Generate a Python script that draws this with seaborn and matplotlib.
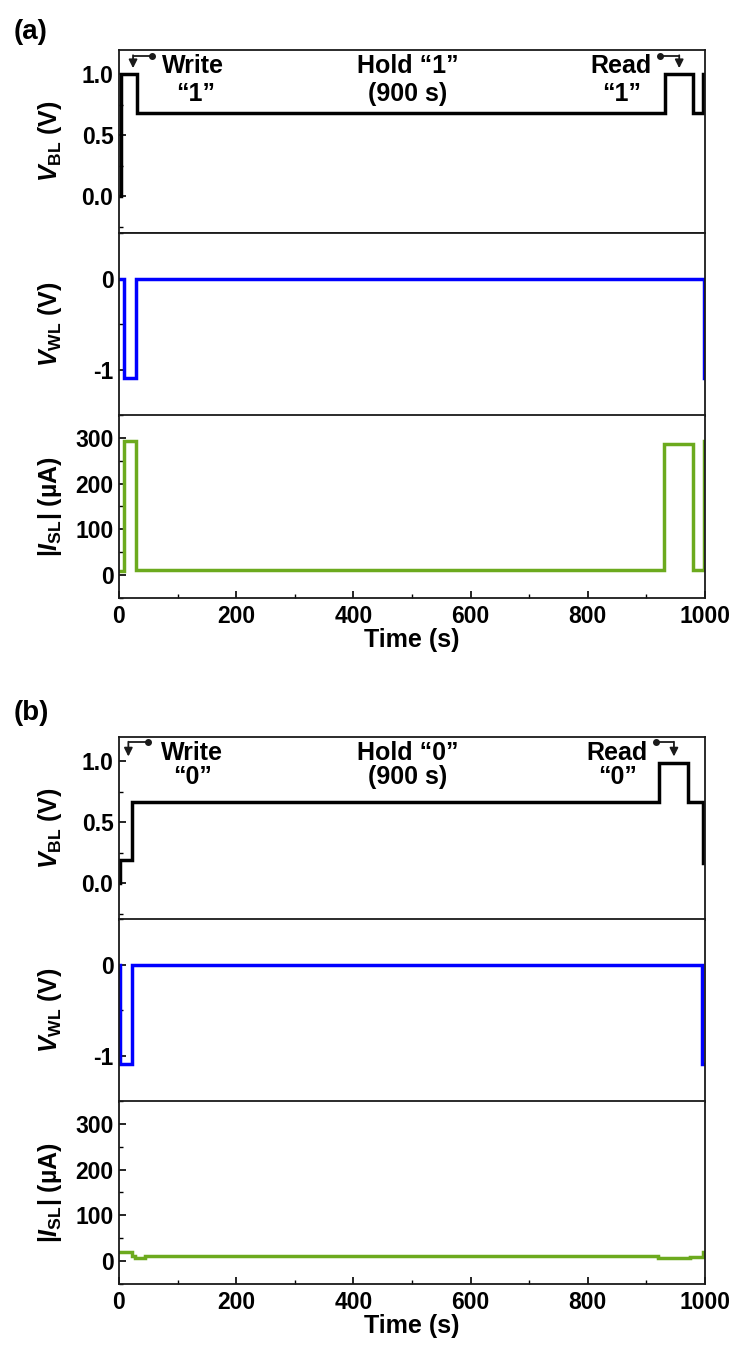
import matplotlib
matplotlib.use("Agg")
import matplotlib.pyplot as plt
from matplotlib.ticker import MultipleLocator, FormatStrFormatter
import pandas as pd
import seaborn as sns

# ---- step records (time in s) ----
# (a) write "1" / hold / read "1"
time_bl_a = [0, 3, 31, 932, 980, 997, 1000]
vbl_a = [0.0, 1.0, 0.68, 1.0, 0.68, 1.0, 1.0]
time_wl_a = [0, 8, 29, 998, 1000]
vwl_a = [0.0, -1.08, 0.0, -1.08, -1.08]
time_sl_a = [0, 8, 29, 930, 980, 998, 1000]
isl_a = [10, 292, 12, 286, 12, 292, 292]

# (b) write "0" / hold / read "0"
time_bl_b = [0, 1, 23, 922, 971, 997, 1000]
vbl_b = [0.0, 0.19, 0.67, 0.99, 0.67, 0.17, 0.17]
time_wl_b = [0, 2, 22, 995, 1000]
vwl_b = [0.0, -1.08, 0.0, -1.08, -1.08]
time_sl_b = [0, 22, 28, 45, 920, 975, 996, 1000]
isl_b = [20, 12, 7, 11, 6, 8, 20, 20]

time_ticks = [0, 200, 400, 600, 800, 1000]
vbl_ticks = [0.0, 0.5, 1.0]
vwl_ticks = [-1, 0]
isl_ticks = [0, 100, 200, 300]

sns.set_theme(style="ticks")
plt.rcParams.update({
    "font.family": ["Liberation Sans", "DejaVu Sans"],
    "font.weight": "bold",
    "axes.labelweight": "bold",
    "font.size": 16.5,
    "mathtext.fontset": "custom",
    "mathtext.it": "Liberation Sans:italic:bold",
    "mathtext.rm": "Liberation Sans:bold",
    "mathtext.bf": "Liberation Sans:bold",
    "axes.edgecolor": "#1a1a1a",
    "axes.linewidth": 1.3,
    "axes.unicode_minus": False,
    "text.color": "black",
    "axes.labelcolor": "black",
    "xtick.color": "black",
    "ytick.color": "black",
})

BLACK, BLUE, GREEN = "#000000", "#0000FF", "#6CAA1E"
LW = 2.5
TICK_FS = 16.5
LABEL_FS = 18
NOTE_FS = 18

fig = plt.figure(figsize=(7.34, 13.52), dpi=100)
LEFT, WIDTH, H = 0.1621, 0.7984, 0.1354


def step(ax, t, y, color):
    df = pd.DataFrame({"t": t, "y": y})
    sns.lineplot(data=df, x="t", y="y", ax=ax, color=color, lw=LW,
                 drawstyle="steps-post", estimator=None, sort=False,
                 legend=False, solid_joinstyle="miter")


def style_axis(ax, ylim, yticks, yminor, ylabel, bottom):
    ax.set_xlim(0, 1000)
    ax.set_ylim(*ylim)
    ax.set_yticks(yticks)
    ax.yaxis.set_minor_locator(MultipleLocator(yminor))
    ax.set_ylabel(ylabel, fontsize=LABEL_FS)
    ax.yaxis.set_label_coords(-0.094, 0.5)
    ax.tick_params(axis="y", which="major", direction="in", length=5,
                   width=1.2, pad=4, labelsize=TICK_FS)
    ax.tick_params(axis="y", which="minor", direction="in", length=3,
                   width=1.0)
    if bottom:
        ax.set_xticks(time_ticks)
        ax.xaxis.set_minor_locator(MultipleLocator(100))
        ax.tick_params(axis="x", which="major", direction="in", length=5,
                       width=1.2, pad=5, labelsize=TICK_FS)
        ax.tick_params(axis="x", which="minor", direction="in", length=3,
                       width=1.0)
        ax.set_xlabel("Time (s)", fontsize=LABEL_FS, labelpad=0)
    else:
        ax.set_xticks([])
        ax.set_xlabel("")
    for s in ax.spines.values():
        s.set_visible(True)


def bent_arrow(ax, t_dot, t_corner, y_top, y_tip):
    ax.plot([t_dot, t_corner], [y_top, y_top], color="k", lw=1.3,
            solid_capstyle="butt")
    ax.plot([t_dot], [y_top], "o", ms=4, color="k")
    ax.annotate("", xy=(t_corner, y_tip), xytext=(t_corner, y_top + 0.006),
                arrowprops=dict(arrowstyle="-|>,head_length=0.3,head_width=0.15",
                                color="k", lw=1.3, shrinkA=0, shrinkB=0))


def panel(bottoms, tb, vb, tw, vw, ts, isl, state, arrows, txt):
    ax1 = fig.add_axes([LEFT, bottoms[0], WIDTH, H])
    ax2 = fig.add_axes([LEFT, bottoms[1], WIDTH, H])
    ax3 = fig.add_axes([LEFT, bottoms[2], WIDTH, H])
    step(ax1, tb, vb, BLACK)
    step(ax2, tw, vw, BLUE)
    step(ax3, ts, isl, GREEN)
    style_axis(ax1, (-0.3, 1.2), vbl_ticks, 0.25, r"$V_{\mathrm{BL}}$ (V)", False)
    style_axis(ax2, (-1.5, 0.5), vwl_ticks, 0.5, r"$V_{\mathrm{WL}}$ (V)", False)
    style_axis(ax3, (-50, 350), isl_ticks, 50, r"|$I_{\mathrm{SL}}$| (µA)", True)
    ax1.yaxis.set_major_formatter(FormatStrFormatter("%.1f"))

    (wd, wc, wy, wt), (rd, rc, ry, rt) = arrows
    bent_arrow(ax1, wd, wc, wy, wt)
    bent_arrow(ax1, rd, rc, ry, rt)

    wx, wq, hx, rx, y1, y2 = txt
    ax1.text(wx, y1, "Write", ha="left", va="center", fontsize=NOTE_FS)
    ax1.text(wq, y2, f"\u201c{state}\u201d", ha="center", va="center", fontsize=NOTE_FS)
    ax1.text(hx, y1, f"Hold \u201c{state}\u201d", ha="center", va="center", fontsize=NOTE_FS)
    ax1.text(hx, y2, "(900 s)", ha="center", va="center", fontsize=NOTE_FS)
    ax1.text(rx, y1, "Read", ha="center", va="center", fontsize=NOTE_FS)
    ax1.text(rx, y2, f"\u201c{state}\u201d", ha="center", va="center", fontsize=NOTE_FS)


panel((0.8277, 0.6923, 0.5577), time_bl_a, vbl_a, time_wl_a, vwl_a,
      time_sl_a, isl_a, "1",
      ((56, 24, 1.15, 1.05), (923, 956, 1.15, 1.05)),
      (74, 130, 493, 857, 1.07, 0.84))
panel((0.3195, 0.1849, 0.0503), time_bl_b, vbl_b, time_wl_b, vwl_b,
      time_sl_b, isl_b, "0",
      ((50, 16, 1.155, 1.04), (916, 947, 1.155, 1.04)),
      (72, 125, 493, 850, 1.07, 0.87))

fig.text(0.019, 1 - 32 / 1352, "(a)", fontsize=20, va="center", ha="left")
fig.text(0.019, 1 - 713 / 1352, "(b)", fontsize=20, va="center", ha="left")

fig.savefig("out.png", dpi=100)
